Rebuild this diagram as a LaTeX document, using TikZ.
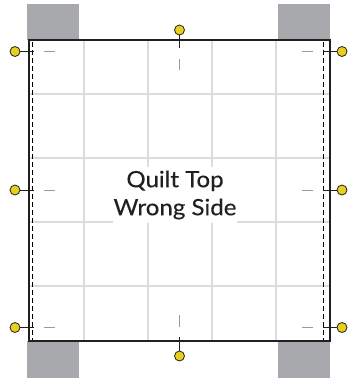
\documentclass[tikz,border=0pt]{standalone}
\usepackage{fontspec}
\setmainfont{Lato}
\newfontfamily\labelfont[FakeStretch=1.07,FakeBold=0.25]{Lato}
\definecolor{tabgray}{HTML}{A7A9AC}
\definecolor{gridgray}{HTML}{DCDCDC}
\definecolor{edge}{HTML}{231F20}
\definecolor{pinyellow}{HTML}{E6CF1E}
\definecolor{markgray}{HTML}{9A9A9A}
\begin{document}
\begin{tikzpicture}[x=1pt,y=-1pt,
  tab/.style={fill=tabgray,draw=none},
  gridline/.style={draw=gridgray,line width=1.6pt},
  border/.style={draw=edge,line width=2pt},
  seam/.style={draw=black,line width=0.9pt,dash pattern=on 5pt off 3pt},
  pin/.style={circle,fill=pinyellow,draw=edge,line width=0.8pt,minimum size=10pt,inner sep=0pt},
  pinline/.style={draw=edge,line width=1pt},
  tick/.style={draw=markgray,line width=0.8pt}]
\useasboundingbox (0,0) rectangle (348,378);
% gray tabs
\fill[tab] (27,4) rectangle (79,40);
\fill[tab] (278,4) rectangle (330,40);
\fill[tab] (27,341) rectangle (79,378);
\fill[tab] (278,341) rectangle (330,378);
% quilt area
\fill[white] (29,40) rectangle (330,341);
\foreach \x in {84,148,212,276} \draw[gridline] (\x,40) -- (\x,341);
\foreach \y in {94,158,222,286} \draw[gridline] (29,\y) -- (330,\y);
% seam lines
\draw[seam] (32.5,42) -- (32.5,340);
\draw[seam] (323.5,42) -- (323.5,340);
% border
\draw[border] (29,40) rectangle (330,341);
% label
\node[fill=white,inner xsep=1pt,inner ysep=4pt,align=center,font=\labelfont\fontsize{22.5}{28}\selectfont,text=edge] (label) at (175,195) {Quilt Top\\Wrong Side};
% pins
\node[pin] (pl1) at (15,51.5) {};
\node[pin] (pl2) at (15,190) {};
\node[pin] (pl3) at (15,327.5) {};
\node[pin] (pr1) at (342,51.5) {};
\node[pin] (pr2) at (342,190) {};
\node[pin] (pr3) at (342,327.5) {};
\node[pin] (pt) at (179.5,30) {};
\node[pin] (pb) at (179.5,356) {};
\coordinate (el1) at (33.5,51.5);
\coordinate (el2) at (33.5,190);
\coordinate (el3) at (33.5,327.5);
\coordinate (er1) at (323,51.5);
\coordinate (er2) at (323,190);
\coordinate (er3) at (323,327.5);
\coordinate (et) at (179.5,48);
\coordinate (eb) at (179.5,337);
\draw[pinline] (pl1) -- (el1);
\draw[pinline] (pl2) -- (el2);
\draw[pinline] (pl3) -- (el3);
\draw[pinline] (pr1) -- (er1);
\draw[pinline] (pr2) -- (er2);
\draw[pinline] (pr3) -- (er3);
\draw[pinline] (pt) -- (et);
\draw[pinline] (pb) -- (eb);
% short marks
\foreach \y in {51.5,190,327.5} {
  \draw[tick] (44,\y) -- (55,\y);
  \draw[tick] (302,\y) -- (313,\y);
}
\draw[tick] (179.5,59) -- (179.5,70);
\draw[tick] (179.5,315) -- (179.5,327);
\end{tikzpicture}
\end{document}
